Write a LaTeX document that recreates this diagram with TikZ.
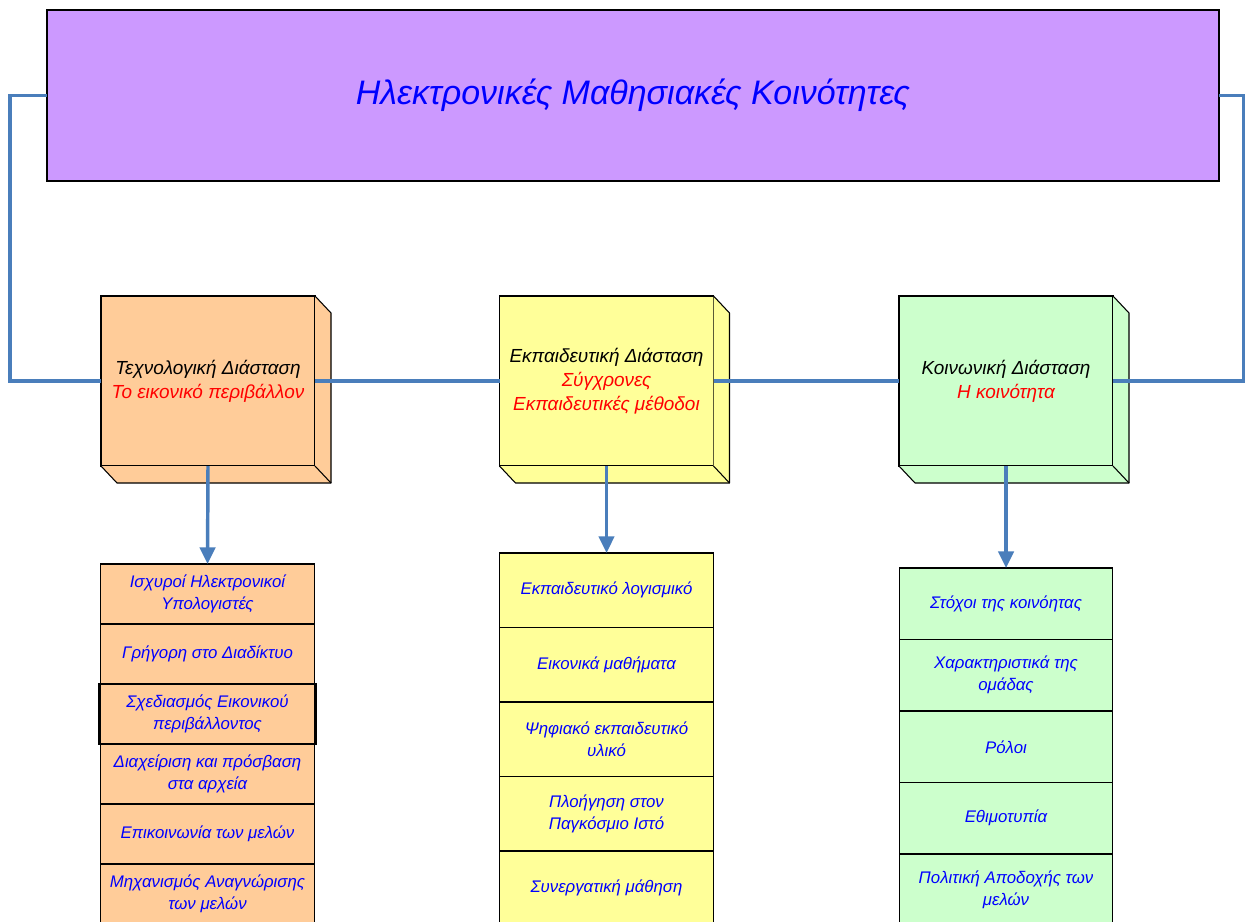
\documentclass[tikz,border=0pt]{standalone}
\usepackage{fontspec}
\setmainfont{Liberation Sans}
\usetikzlibrary{arrows.meta,calc}
\definecolor{purplefill}{HTML}{CC99FF}
\definecolor{orangefill}{HTML}{FFCC99}
\definecolor{yellowfill}{HTML}{FFFF99}
\definecolor{greenfill}{HTML}{CCFFCC}
\definecolor{linkblue}{HTML}{4A7EBB}
\definecolor{txtblue}{HTML}{0000FF}
\definecolor{txtred}{HTML}{FF0000}

\tikzset{
  titlebox/.style={draw=black, line width=0.9pt, fill=purplefill, outer sep=0pt,
    minimum width=879pt, minimum height=128.25pt, inner sep=0pt,
    font=\fontsize{25.5pt}{30pt}\selectfont\itshape, text=txtblue},
  cubefront/.style={draw=black, line width=0.8pt, outer sep=0pt, inner sep=0pt,
    minimum width=160.5pt, minimum height=127.5pt, align=center,
    font=\fontsize{14.2pt}{18pt}\selectfont\itshape},
  cubeside/.style={draw=black, line width=0.8pt, line join=round},
  listrow/.style={draw=black, line width=0.8pt, outer sep=0pt, inner sep=0pt,
    minimum width=160pt, align=center, text=txtblue,
    font=\fontsize{12.6pt}{16.5pt}\selectfont\itshape},
  link/.style={draw=linkblue, line width=2.6pt},
  linkarrow/.style={link, -{Triangle[width=11.5pt,length=12.5pt]}},
}

% a box drawn with its depth towards the lower right
\newcommand{\cubeface}[2]{%
  \fill[#2] (#1.north east) -- ++(16,17) -- ($(#1.south east)+(16,17)$) -- (#1.south east) -- cycle;
  \fill[#2] (#1.south west) -- (#1.south east) -- ($(#1.south east)+(16,17)$) -- ($(#1.south west)+(16,17)$) -- cycle;
  \draw[cubeside] (#1.north east) -- ++(16,17) -- ($(#1.south east)+(16,17)$) -- ($(#1.south west)+(16,17)$) -- (#1.south west);
  \draw[cubeside] (#1.south east) -- ($(#1.south east)+(16,17)$);
}

\begin{document}
\begin{tikzpicture}[x=0.75pt, y=-0.75pt]
\useasboundingbox (0,0) rectangle (1245,921);
\clip (0,0) rectangle (1245,921);

% heading
\node[titlebox] (top) at (633,95.5) {Ηλεκτρονικές Μαθησιακές Κοινότητες};

% the three dimensions
\node[cubefront, fill=orangefill] (b1) at (208,381)
  {Τεχνολογική Διάσταση\\\textcolor{txtred}{Το εικονικό περιβάλλον}};
\node[cubefront, fill=yellowfill] (b2) at (606.5,381)
  {Εκπαιδευτική Διάσταση\\\textcolor{txtred}{Σύγχρονες}\\\textcolor{txtred}{Εκπαιδευτικές μέθοδοι}};
\node[cubefront, fill=greenfill] (b3) at (1006,381)
  {Κοινωνική Διάσταση\\\textcolor{txtred}{Η κοινότητα}};
\cubeface{b1}{orangefill}
\cubeface{b2}{yellowfill}
\cubeface{b3}{greenfill}

% technological list
\begin{scope}[every node/.style={listrow, fill=orangefill, minimum height=45pt}]
  \node (t1) at (207.5,594) {Ισχυροί Ηλεκτρονικοί\\Υπολογιστές};
  \node (t2) at (207.5,654) {Γρήγορη στο Διαδίκτυο};
  \node (t3) at (207.5,714) {Σχεδιασμός Εικονικού\\περιβάλλοντος};
  \node (t4) at (207.5,774) {Διαχείριση και πρόσβαση\\στα αρχεία};
  \node (t5) at (207.5,834) {Επικοινωνία των μελών};
  \node (t6) at (207.5,894) {Μηχανισμός Αναγνώρισης\\των μελών};
\end{scope}
\draw[line width=2pt] ($(t3.north west)+(-1.5,0)$) rectangle ($(t3.south east)+(1.5,0)$);

% educational list
\begin{scope}[every node/.style={listrow, fill=yellowfill, minimum height=55.875pt}]
  \node (e1) at (606.5,590.25) {Εκπαιδευτικό λογισμικό};
  \node (e2) at (606.5,664.75) {Εικονικά μαθήματα};
  \node (e3) at (606.5,739.25) {Ψηφιακό εκπαιδευτικό\\υλικό};
  \node (e4) at (606.5,813.75) {Πλοήγηση στον\\Παγκόσμιο Ιστό};
  \node (e5) at (606.5,888.25) {Συνεργατική μάθηση};
\end{scope}

% social list
\begin{scope}[every node/.style={listrow, fill=greenfill, minimum height=53.625pt}]
  \node (s1) at (1006,603.75) {Στόχοι της κοινόητας};
  \node (s2) at (1006,675.25) {Χαρακτηριστικά της\\ομάδας};
  \node (s3) at (1006,746.75) {Ρόλοι};
  \node (s4) at (1006,818.25) {Εθιμοτυπία};
  \node (s5) at (1006,889.75) {Πολιτική Αποδοχής των\\μελών};
\end{scope}

% connectors
\coordinate (lc) at (10,381);
\coordinate (rc) at (1244,381);
\draw[link] (top.west) -| (lc) -- (b1.west);
\draw[link] (top.east) -| (rc) -- (b3.east);
\draw[link] (b1.east) -- (b2.west);
\draw[link] (b2.east) -- (b3.west);
\draw[linkarrow] (b1.south) -- (t1.north);
\draw[linkarrow] (b2.south) -- (e1.north);
\draw[linkarrow] (b3.south) -- (s1.north);
\end{tikzpicture}
\end{document}
